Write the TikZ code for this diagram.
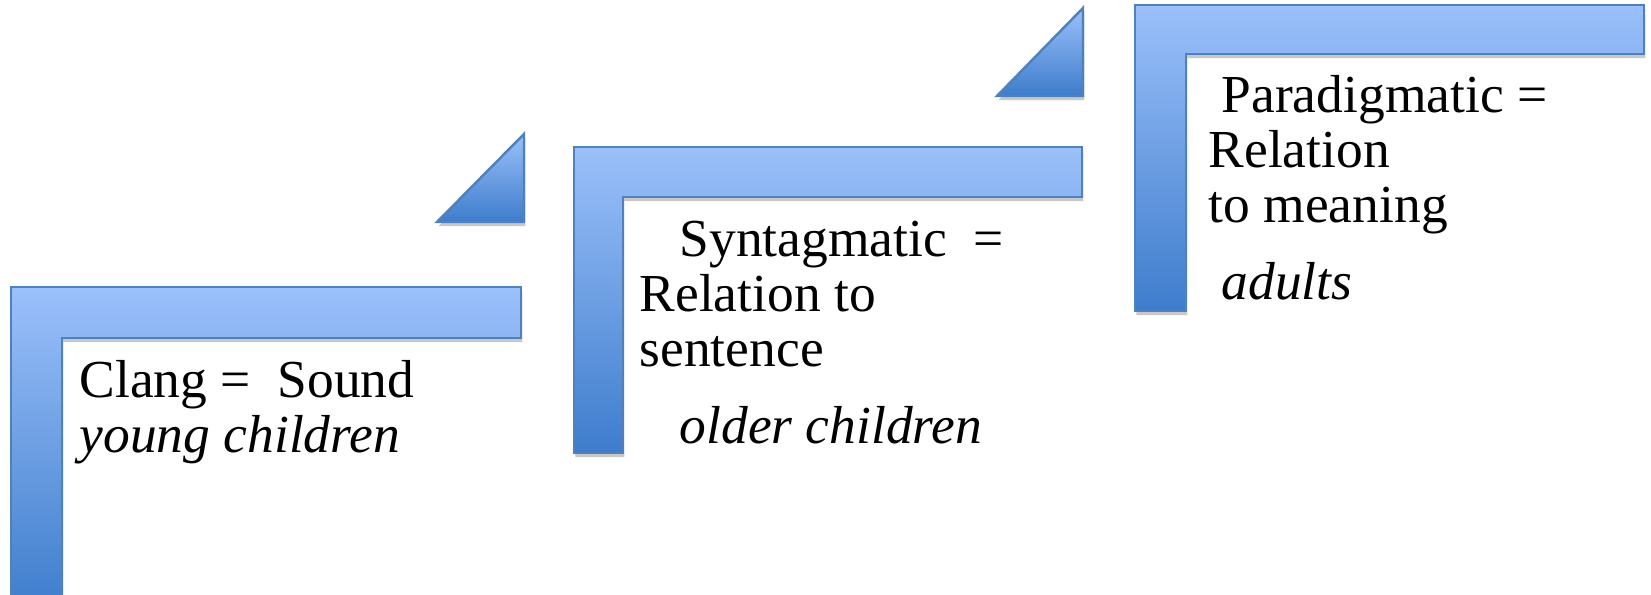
\documentclass[tikz,border=0pt]{standalone}
\usepackage{fontspec}
\setmainfont{Liberation Serif}
\usetikzlibrary{shadows}

\definecolor{steplight}{RGB}{155,192,250}
\definecolor{stepdark}{RGB}{62,125,204}
\definecolor{stepline}{RGB}{79,129,189}

\begin{document}
\begin{tikzpicture}[
    x=0.01cm, y=-0.01cm,
    halfframe/.style={draw=stepline, line width=0.7pt,
                      top color=steplight, bottom color=stepdark,
                      drop shadow={shadow xshift=0.4pt, shadow yshift=-1.2pt,
                                   opacity=0.3, fill=black!70}},
    stepwedge/.style={halfframe},
    steptext/.style={anchor=base west, align=left, inner sep=0pt,
                     font=\fontsize{15.2}{15.65}\selectfont}
  ]
    \path[fill=white] (0,0) rectangle (1651,595);
    \clip (0,0) rectangle (1651,595);

    % Step 1: sound
    \path[halfframe] (11,287) -- (521,287) -- (521,338) -- (62,338)
      -- (62,610) -- (11,610) -- cycle;
    \node[steptext] (clang) at (79,453)
      {Clang =\ \ Sound\\ \textit{young children}};

    % Wedge up to step 2
    \path[stepwedge] (437,222) -- (524,134) -- (524,222) -- cycle;

    % Step 2: sentence
    \path[halfframe] (574,147) -- (1082,147) -- (1082,197) -- (623,197)
      -- (623,453) -- (574,453) -- cycle;
    \node[steptext] (syntag) at (639,444)
      {\hspace*{0.4cm}Syntagmatic\ \ =\\ Relation to\\ sentence\\[0.22cm]
       \hspace*{0.4cm}\textit{older children}};

    % Wedge up to step 3
    \path[stepwedge] (997,96) -- (1083,8) -- (1083,96) -- cycle;

    % Step 3: meaning
    \path[halfframe] (1135,5) -- (1644,5) -- (1644,54) -- (1186,54)
      -- (1186,311) -- (1135,311) -- cycle;
    \node[steptext] (paradig) at (1208,300)
      {\hspace*{0.13cm}Paradigmatic =\\ Relation\\ to meaning\\[0.22cm]
       \hspace*{0.13cm}\textit{adults}};
\end{tikzpicture}
\end{document}
